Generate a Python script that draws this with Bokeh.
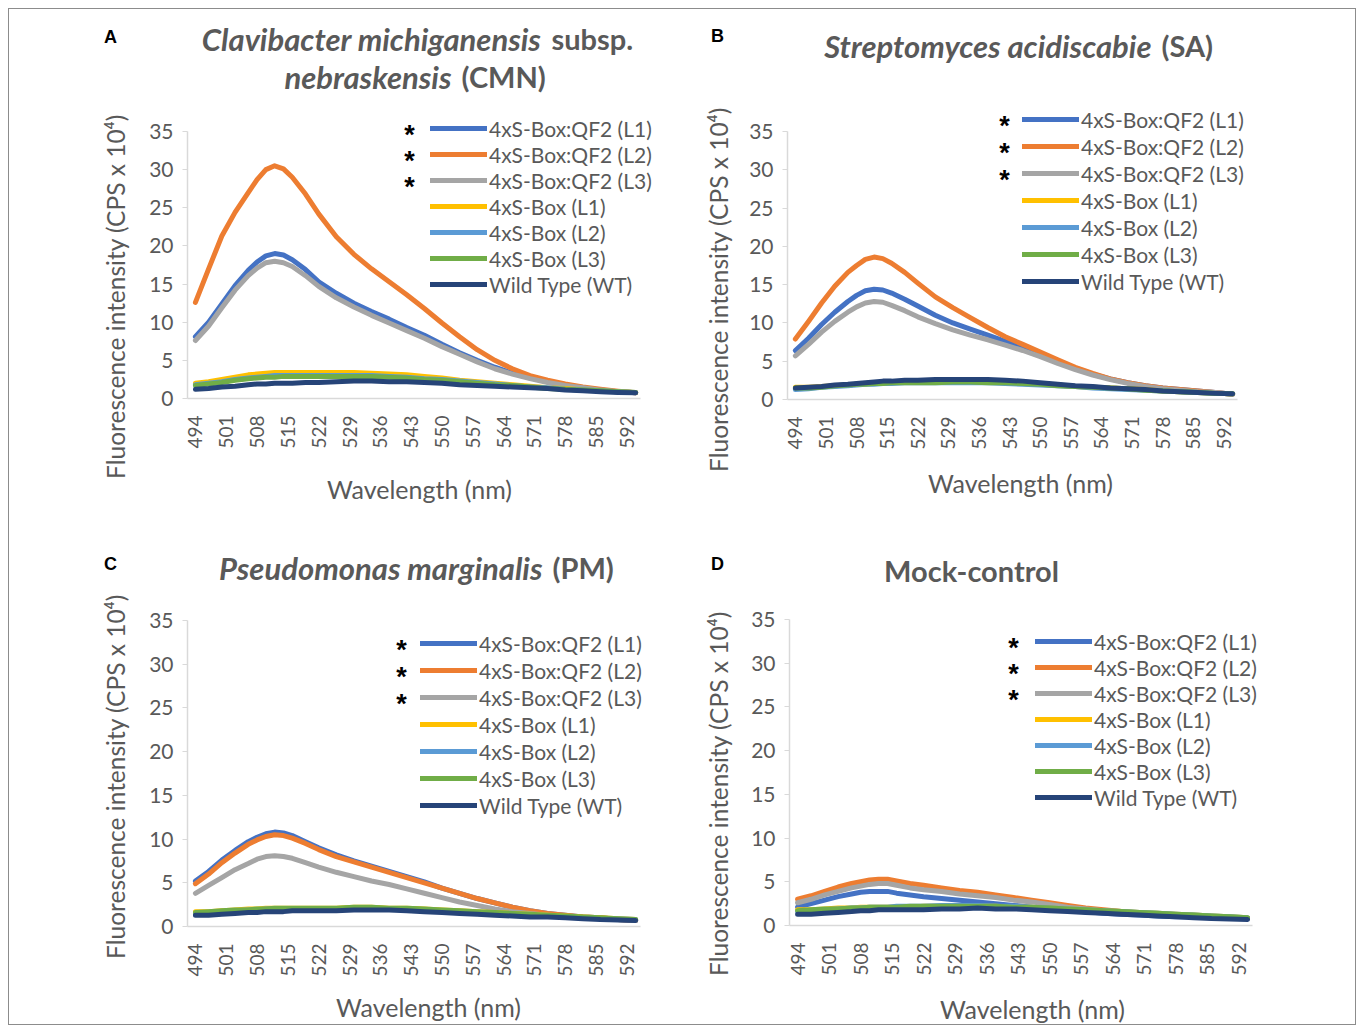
import math
from bokeh.plotting import figure
from bokeh.models import Range1d, FixedTicker, Legend, LegendItem, Label, Spacer
from bokeh.layouts import column, row
from bokeh.embed import file_html
from bokeh.resources import INLINE

# ---------------- data ----------------
WL = [494, 497, 500, 503, 506, 508, 510, 512, 514, 516, 519, 522, 526, 530, 534,
      538, 542, 546, 550, 554, 558, 562, 566, 570, 574, 578, 582, 586, 590, 594]

SERIES_NAMES = ["4xS-Box:QF2 (L1)", "4xS-Box:QF2 (L2)", "4xS-Box:QF2 (L3)",
                "4xS-Box (L1)", "4xS-Box (L2)", "4xS-Box (L3)", "Wild Type (WT)"]
SERIES_COLORS = ["#4472C4", "#ED7D31", "#A5A5A5", "#FFC000", "#5B9BD5", "#70AD47", "#264478"]

X_TICKS = [494, 501, 508, 515, 522, 529, 536, 543, 550, 557, 564, 571, 578, 585, 592]
Y_TICKS = [0, 5, 10, 15, 20, 25, 30, 35]
X_LIMITS = (492.2, 595.1)
Y_LIMITS = (0, 35)

# Panel A - CMN
A_QF2_L1 = [8.1, 10.0, 12.4, 14.8, 16.8, 17.9, 18.7, 19.0, 18.8, 18.2, 16.9, 15.3, 13.8, 12.5, 11.4,
            10.4, 9.3, 8.3, 7.1, 6.0, 5.0, 4.1, 3.3, 2.7, 2.2, 1.8, 1.4, 1.1, 0.9, 0.75]
A_QF2_L2 = [12.6, 17.0, 21.3, 24.4, 27.0, 28.7, 30.0, 30.5, 30.1, 29.0, 26.8, 24.2, 21.2, 18.9, 17.0,
            15.3, 13.6, 11.8, 9.9, 8.1, 6.4, 5.0, 3.9, 3.0, 2.4, 1.9, 1.5, 1.2, 0.95, 0.75]
A_QF2_L3 = [7.6, 9.5, 11.9, 14.2, 16.1, 17.1, 17.8, 18.0, 17.8, 17.3, 16.1, 14.7, 13.2, 12.0, 10.9,
            9.9, 8.9, 7.9, 6.8, 5.8, 4.8, 3.9, 3.2, 2.6, 2.1, 1.7, 1.4, 1.1, 0.9, 0.75]
A_BOX_L1 = [2.0, 2.2, 2.5, 2.8, 3.1, 3.2, 3.3, 3.4, 3.4, 3.4, 3.4, 3.4, 3.4, 3.4, 3.3,
            3.2, 3.1, 2.9, 2.7, 2.4, 2.2, 2.0, 1.8, 1.6, 1.4, 1.3, 1.1, 1.0, 0.9, 0.8]
A_BOX_L2 = [1.8, 2.0, 2.2, 2.5, 2.7, 2.8, 2.9, 3.0, 3.0, 3.0, 3.0, 3.0, 3.0, 3.0, 3.0,
            2.9, 2.8, 2.6, 2.5, 2.3, 2.1, 1.9, 1.7, 1.5, 1.4, 1.2, 1.1, 1.0, 0.9, 0.8]
A_BOX_L3 = [1.7, 1.9, 2.1, 2.4, 2.6, 2.7, 2.8, 2.8, 2.9, 2.9, 2.9, 2.9, 2.9, 2.9, 2.9,
            2.8, 2.7, 2.5, 2.4, 2.2, 2.0, 1.8, 1.7, 1.5, 1.3, 1.2, 1.1, 1.0, 0.9, 0.8]
A_WT = [1.2, 1.3, 1.5, 1.6, 1.8, 1.9, 1.9, 2.0, 2.0, 2.0, 2.1, 2.1, 2.2, 2.3, 2.3,
        2.2, 2.2, 2.1, 2.0, 1.8, 1.7, 1.6, 1.5, 1.4, 1.3, 1.1, 1.0, 0.9, 0.8, 0.75]

# Panel B - SA
B_QF2_L1 = [6.4, 8.0, 9.8, 11.4, 12.8, 13.6, 14.2, 14.4, 14.3, 13.9, 13.1, 12.2, 11.0, 10.0, 9.2,
            8.4, 7.6, 6.8, 5.9, 5.0, 4.1, 3.3, 2.7, 2.2, 1.8, 1.5, 1.3, 1.1, 0.9, 0.7]
B_QF2_L2 = [7.9, 10.2, 12.6, 14.8, 16.6, 17.5, 18.3, 18.6, 18.4, 17.8, 16.6, 15.2, 13.4, 12.0, 10.7,
            9.4, 8.2, 7.2, 6.2, 5.2, 4.2, 3.4, 2.7, 2.2, 1.8, 1.5, 1.3, 1.1, 0.9, 0.7]
B_QF2_L3 = [5.7, 7.2, 8.8, 10.2, 11.4, 12.1, 12.6, 12.8, 12.7, 12.3, 11.6, 10.8, 9.9, 9.1, 8.4,
            7.8, 7.1, 6.4, 5.6, 4.7, 3.9, 3.2, 2.6, 2.1, 1.7, 1.4, 1.2, 1.0, 0.9, 0.7]
B_BOX_L1 = [1.6, 1.6, 1.7, 1.8, 1.9, 2.0, 2.1, 2.1, 2.2, 2.2, 2.3, 2.3, 2.3, 2.3, 2.3,
            2.3, 2.2, 2.1, 2.0, 1.9, 1.7, 1.6, 1.5, 1.4, 1.3, 1.1, 1.0, 0.9, 0.8, 0.75]
B_BOX_L2 = [1.3, 1.4, 1.6, 1.7, 1.8, 1.9, 2.0, 2.0, 2.1, 2.1, 2.2, 2.2, 2.2, 2.2, 2.2,
            2.2, 2.1, 2.0, 1.9, 1.8, 1.7, 1.5, 1.4, 1.3, 1.2, 1.1, 1.0, 0.9, 0.8, 0.75]
B_BOX_L3 = [1.5, 1.5, 1.6, 1.8, 1.9, 2.0, 2.0, 2.1, 2.1, 2.2, 2.2, 2.2, 2.2, 2.3, 2.3,
            2.2, 2.2, 2.1, 2.0, 1.8, 1.7, 1.6, 1.5, 1.4, 1.2, 1.1, 1.0, 0.9, 0.8, 0.75]
B_WT = [1.5, 1.6, 1.7, 1.9, 2.0, 2.1, 2.2, 2.3, 2.4, 2.4, 2.5, 2.5, 2.6, 2.6, 2.6,
        2.6, 2.5, 2.4, 2.2, 2.0, 1.8, 1.7, 1.5, 1.4, 1.3, 1.1, 1.0, 0.9, 0.8, 0.75]

# Panel C - PM
C_QF2_L1 = [5.2, 6.3, 7.6, 8.7, 9.7, 10.2, 10.6, 10.8, 10.7, 10.4, 9.7, 9.0, 8.2, 7.5, 6.9,
            6.3, 5.7, 5.1, 4.4, 3.8, 3.2, 2.7, 2.2, 1.8, 1.5, 1.3, 1.1, 1.0, 0.8, 0.7]
C_QF2_L2 = [4.9, 6.0, 7.3, 8.4, 9.4, 9.9, 10.3, 10.5, 10.4, 10.1, 9.5, 8.8, 8.0, 7.4, 6.8,
            6.2, 5.6, 5.0, 4.4, 3.8, 3.2, 2.7, 2.2, 1.8, 1.5, 1.3, 1.1, 1.0, 0.8, 0.7]
C_QF2_L3 = [3.8, 4.7, 5.6, 6.5, 7.2, 7.7, 8.0, 8.1, 8.0, 7.8, 7.3, 6.8, 6.2, 5.7, 5.2,
            4.8, 4.3, 3.8, 3.3, 2.8, 2.4, 2.0, 1.7, 1.5, 1.3, 1.1, 1.0, 0.9, 0.8, 0.7]
C_BOX_L1 = [1.7, 1.7, 1.8, 1.9, 2.0, 2.0, 2.1, 2.1, 2.1, 2.1, 2.1, 2.1, 2.1, 2.2, 2.2,
            2.1, 2.1, 2.0, 1.9, 1.8, 1.7, 1.6, 1.5, 1.4, 1.3, 1.2, 1.1, 1.0, 0.9, 0.8]
C_BOX_L2 = [1.5, 1.6, 1.7, 1.8, 1.9, 1.9, 2.0, 2.0, 2.0, 2.0, 2.0, 2.0, 2.0, 2.1, 2.1,
            2.0, 2.0, 1.9, 1.8, 1.7, 1.6, 1.5, 1.4, 1.3, 1.2, 1.1, 1.0, 0.9, 0.85, 0.8]
C_BOX_L3 = [1.6, 1.7, 1.8, 1.9, 1.9, 2.0, 2.0, 2.1, 2.1, 2.1, 2.1, 2.1, 2.1, 2.2, 2.2,
            2.1, 2.1, 2.0, 1.9, 1.8, 1.7, 1.6, 1.5, 1.4, 1.3, 1.2, 1.1, 1.0, 0.9, 0.8]
C_WT = [1.3, 1.3, 1.4, 1.5, 1.6, 1.6, 1.7, 1.7, 1.7, 1.8, 1.8, 1.8, 1.8, 1.9, 1.9,
        1.9, 1.8, 1.7, 1.6, 1.5, 1.4, 1.3, 1.2, 1.1, 1.1, 1.0, 0.9, 0.8, 0.75, 0.7]

# Panel D - Mock
D_QF2_L1 = [2.1, 2.5, 2.9, 3.3, 3.6, 3.8, 3.9, 3.9, 3.9, 3.7, 3.5, 3.3, 3.1, 2.9, 2.7,
            2.5, 2.3, 2.1, 1.9, 1.7, 1.6, 1.4, 1.3, 1.2, 1.1, 1.0, 1.0, 0.9, 0.85, 0.8]
D_QF2_L2 = [3.0, 3.4, 3.9, 4.4, 4.8, 5.0, 5.2, 5.3, 5.3, 5.1, 4.8, 4.6, 4.3, 4.0, 3.8,
            3.5, 3.2, 2.9, 2.6, 2.3, 2.0, 1.8, 1.6, 1.4, 1.3, 1.1, 1.0, 0.95, 0.85, 0.8]
D_QF2_L3 = [2.6, 3.0, 3.5, 3.9, 4.3, 4.5, 4.7, 4.8, 4.8, 4.6, 4.3, 4.1, 3.9, 3.6, 3.4,
            3.2, 2.9, 2.7, 2.4, 2.1, 1.9, 1.7, 1.5, 1.35, 1.2, 1.1, 1.0, 0.9, 0.85, 0.8]
D_BOX_L1 = [1.8, 1.8, 1.9, 2.0, 2.0, 2.1, 2.1, 2.1, 2.1, 2.1, 2.1, 2.2, 2.2, 2.2, 2.2,
            2.2, 2.1, 2.1, 2.0, 1.9, 1.8, 1.7, 1.6, 1.5, 1.4, 1.3, 1.2, 1.1, 1.0, 0.9]
D_BOX_L2 = [1.6, 1.7, 1.8, 1.9, 2.0, 2.0, 2.1, 2.1, 2.1, 2.2, 2.2, 2.2, 2.3, 2.3, 2.3,
            2.2, 2.2, 2.1, 2.0, 1.9, 1.8, 1.7, 1.6, 1.5, 1.4, 1.3, 1.2, 1.1, 1.0, 0.9]
D_BOX_L3 = [1.7, 1.8, 1.9, 1.9, 2.0, 2.0, 2.1, 2.1, 2.1, 2.1, 2.2, 2.2, 2.2, 2.2, 2.2,
            2.2, 2.1, 2.1, 2.0, 1.9, 1.8, 1.7, 1.6, 1.5, 1.4, 1.3, 1.2, 1.1, 1.0, 0.9]
D_WT = [1.3, 1.3, 1.4, 1.5, 1.6, 1.7, 1.7, 1.8, 1.8, 1.8, 1.8, 1.8, 1.9, 1.9, 2.0,
        1.9, 1.9, 1.8, 1.7, 1.6, 1.5, 1.4, 1.3, 1.2, 1.1, 1.0, 0.9, 0.8, 0.75, 0.7]

# ---------------- styling ----------------
FONT = "Lato"
TXT = "#595959"
AXIS_LINE = "#D9D9D9"
LINE_W = 5
Y_LABEL = "Fluorescence intensity (CPS x 10\u2074)"
X_LABEL = "Wavelength (nm)"


def lab(p, g, px, py, text, **kw):
    """Label at page pixel (px, py); the frame fills the whole canvas."""
    p.add_layout(Label(x=px - g["cx"], y=g["cy"] + g["h"] - py, x_units="screen",
                       y_units="screen", text=text, **kw))


def make_panel(series, g, letter, title_lines, leg, ylab, xlab):
    x0, x1 = X_LIMITS
    y0, y1 = Y_LIMITS
    ppx = (g["fr"] - g["fl"]) / (x1 - x0)
    ppy = (g["fb"] - g["ft"]) / (y1 - y0)
    xr = Range1d(x0 - (g["fl"] - g["cx"]) / ppx, x1 + (g["cx"] + g["w"] - g["fr"]) / ppx)
    yr = Range1d(y0 - (g["cy"] + g["h"] - g["fb"]) / ppy, y1 + (g["ft"] - g["cy"]) / ppy)

    p = figure(width=g["w"], height=g["h"], output_backend="svg", toolbar_location=None,
               x_range=xr, y_range=yr, min_border=0,
               background_fill_color="white", border_fill_color="white")
    p.outline_line_color = None
    p.xgrid.visible = False
    p.ygrid.visible = False

    for ax in (p.xaxis, p.yaxis):
        ax.axis_line_color = AXIS_LINE
        ax.axis_line_width = 1.5
        ax.minor_tick_line_color = None
        ax.major_label_text_font = FONT
        ax.major_label_text_color = TXT

    p.xaxis.fixed_location = y0
    p.xaxis.bounds = X_LIMITS
    p.xaxis.ticker = FixedTicker(ticks=X_TICKS)
    p.xaxis.major_tick_line_color = None
    p.xaxis.major_tick_out = 0
    p.xaxis.major_tick_in = 0
    p.xaxis.major_label_orientation = math.pi / 2
    p.xaxis.major_label_text_font_size = "19px"
    p.xaxis.major_label_standoff = 17

    p.yaxis.fixed_location = x0
    p.yaxis.bounds = Y_LIMITS
    p.yaxis.ticker = FixedTicker(ticks=Y_TICKS)
    p.yaxis.major_tick_line_color = AXIS_LINE
    p.yaxis.major_tick_out = 5
    p.yaxis.major_tick_in = 0
    p.yaxis.major_label_text_font_size = "21px"
    p.yaxis.major_label_standoff = 9

    items = []
    for name, color, ys in zip(SERIES_NAMES, SERIES_COLORS, series):
        r = p.line(WL, ys, line_color=color, line_width=LINE_W, line_join="round", line_cap="round")
        items.append(LegendItem(label=name, renderers=[r]))

    row_h = 26
    spacing = int(round(leg["pitch"] - row_h))
    leg_h = 7 * row_h + 6 * spacing
    top = leg["row1"] - row_h / 2
    legend = Legend(items=items,
                    location=(int(leg["x"] - g["cx"]), int(round(g["cy"] + g["h"] - (top + leg_h)))),
                    glyph_width=57, glyph_height=row_h, label_height=row_h,
                    label_standoff=2, spacing=spacing, padding=0, margin=0,
                    background_fill_alpha=0, border_line_color=None,
                    label_text_font=FONT, label_text_font_size="21px",
                    label_text_color=TXT)
    p.add_layout(legend)

    for i in range(3):
        lab(p, g, leg["ax"], leg["row1"] + i * leg["pitch"] + 6, "*",
            text_font="Liberation Sans", text_font_style="bold", text_font_size="27px",
            text_color="black", text_align="center", text_baseline="middle")

    lab(p, g, ylab[0], ylab[1], Y_LABEL, angle=math.pi / 2, text_font=FONT,
        text_font_size="24.5px", text_color=TXT, text_align="center", text_baseline="middle")
    lab(p, g, xlab[0], xlab[1], X_LABEL, text_font=FONT,
        text_font_size="25px", text_color=TXT, text_align="center", text_baseline="middle")

    lab(p, g, letter[1], letter[2], letter[0], text_font="Liberation Sans",
        text_font_style="bold", text_font_size="18px", text_color="black",
        text_align="center", text_baseline="middle")

    for (ital, plain, split, cy) in title_lines:
        if plain is None:
            lab(p, g, split, cy, ital, text_font=FONT, text_font_style="bold",
                text_font_size="29px", text_color=TXT, text_align="center",
                text_baseline="middle")
            continue
        lab(p, g, split, cy, ital, text_font=FONT, text_font_style="bold italic",
            text_font_size="31px", text_color=TXT, text_align="right", text_baseline="middle")
        lab(p, g, split + 10, cy, plain, text_font=FONT, text_font_style="bold",
            text_font_size="29px", text_color=TXT, text_align="left", text_baseline="middle")
    return p


GA = dict(cx=9, cy=9, w=673, h=504, fl=187, fr=640, ft=131, fb=398)
GB = dict(cx=682, cy=9, w=673, h=504, fl=787, fr=1237, ft=131, fb=399)
GC = dict(cx=9, cy=513, w=673, h=511, fl=187, fr=640, ft=620, fb=926)
GD = dict(cx=682, cy=513, w=673, h=511, fl=789, fr=1252, ft=619, fb=925)

pA = make_panel([A_QF2_L1, A_QF2_L2, A_QF2_L3, A_BOX_L1, A_BOX_L2, A_BOX_L3, A_WT], GA,
                ("A", 110, 36),
                [("Clavibacter michiganensis", "subsp.", 541, 38),
                 ("nebraskensis", "(CMN)", 451, 76)],
                dict(x=430, row1=128, pitch=26, ax=409), (115, 296), (419, 488))
pB = make_panel([B_QF2_L1, B_QF2_L2, B_QF2_L3, B_BOX_L1, B_BOX_L2, B_BOX_L3, B_WT], GB,
                ("B", 717, 35),
                [("Streptomyces acidiscabie", "(SA)", 1151, 45)],
                dict(x=1022, row1=119, pitch=27, ax=1004), (718, 289), (1020, 482))
pC = make_panel([C_QF2_L1, C_QF2_L2, C_QF2_L3, C_BOX_L1, C_BOX_L2, C_BOX_L3, C_WT], GC,
                ("C", 110, 563),
                [("Pseudomonas marginalis", "(PM)", 542, 567)],
                dict(x=420, row1=643, pitch=27, ax=401), (115, 776), (428, 1006))
pD = make_panel([D_QF2_L1, D_QF2_L2, D_QF2_L3, D_BOX_L1, D_BOX_L2, D_BOX_L3, D_WT], GD,
                ("D", 717, 563),
                [("Mock-control", None, 971, 570)],
                dict(x=1035, row1=641, pitch=26, ax=1013), (718, 793), (1032, 1008))

inner = column(row(pA, pB), row(pC, pD), styles={"border": "1px solid #8c8c8c"})
layout = column(Spacer(height=8), row(Spacer(width=8), inner))

open("out.html", "w").write(file_html(layout, INLINE))
